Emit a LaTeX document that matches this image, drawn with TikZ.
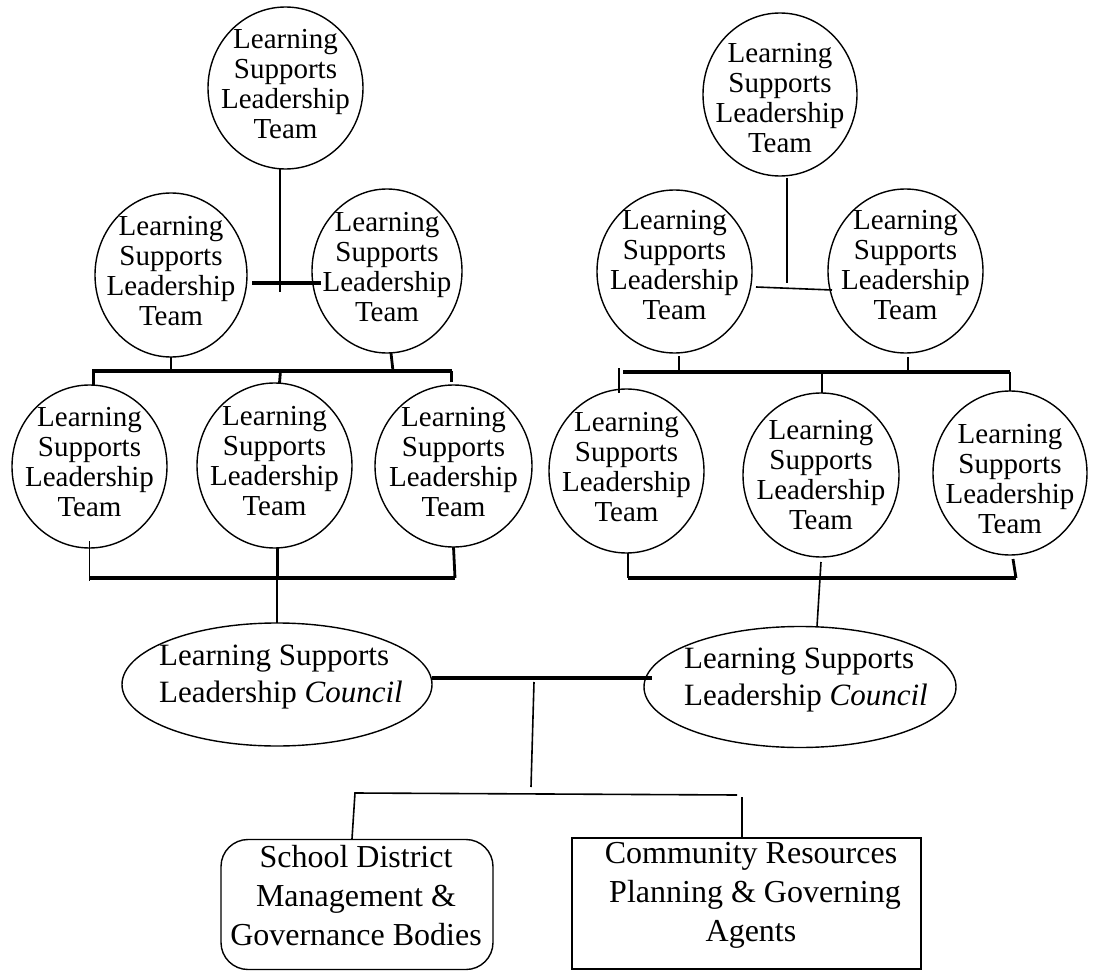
\documentclass[tikz,border=0pt]{standalone}
\usepackage{fontspec}
\setmainfont{Liberation Serif}
\usetikzlibrary{shapes.geometric}
\tikzset{
  team/.style={draw, ellipse, line width=1.4pt, inner sep=0pt, outer sep=0pt, minimum width=155pt, minimum height=163pt},
  teamtext/.style={align=center, font=\fontsize{29}{30}\selectfont, inner sep=0pt, yshift=4pt},
  council/.style={draw, ellipse, line width=1.4pt, inner sep=0pt, outer sep=0pt, minimum width=310pt, minimum height=122pt},
  counciltext/.style={align=left, font=\fontsize{31}{37}\selectfont, inner sep=0pt, yshift=7pt},
  boxtext/.style={align=center, font=\fontsize{32}{39}\selectfont, inner sep=0pt},
  thinline/.style={line width=1.6pt},
  midline/.style={line width=2.8pt},
  thickline/.style={line width=4pt},
}
\newcommand{\lslt}{Learning\\Supports\\Leadership\\Team}
\begin{document}
\begin{tikzpicture}[x=1pt,y=-1pt]
\fill[white] (0,0) rectangle (1096,971);
\useasboundingbox (0,0) rectangle (1096,971);

% ---------- left group ----------
\node[team, minimum width=155pt, minimum height=162pt] (L0) at (285.5,88) {};
\node[teamtext] (L0t) at (L0.center) {\lslt};
\node[team, minimum width=152pt, minimum height=164pt] (L1) at (171,275) {};
\node[teamtext] (L1t) at (L1.center) {\lslt};
\node[team, minimum width=150pt, minimum height=164pt] (L2) at (387,271) {};
\node[teamtext] (L2t) at (L2.center) {\lslt};
\node[team, minimum width=155pt, minimum height=163pt] (B1) at (89.5,466.5) {};
\node[teamtext] (B1t) at (B1.center) {\lslt};
\node[team, minimum width=155pt, minimum height=165pt] (B2) at (274.5,465.5) {};
\node[teamtext] (B2t) at (B2.center) {\lslt};
\node[team, minimum width=157pt, minimum height=162pt] (B3) at (453.5,466) {};
\node[teamtext] (B3t) at (B3.center) {\lslt};

\coordinate (ljoin) at (280,292);
\coordinate (lbarW) at (252,283);
\coordinate (lbarE) at (321,283);
\coordinate (lbusW) at (92,371);
\coordinate (lbusE) at (452,371);
\coordinate (lbbW) at (90,578);
\coordinate (lbbE) at (455,578);

\draw[thinline] (ljoin |- L0.south) -- (ljoin);
\draw[thickline] (lbarW) -- (lbarE);
\draw[thickline] (lbusW) -- (lbusE);
\draw[midline] (L1.south) -- (L1.south |- lbusW);
\draw[midline] ([xshift=4pt]L2.south) -- ([xshift=6pt]L2.south |- lbusW);
\draw[midline] ([xshift=4pt]B1.north |- lbusW) -- ([xshift=4pt]B1.north);
\draw[midline] ([xshift=6pt]B2.north |- lbusW) -- ([xshift=5pt]B2.north);
\draw[midline] ([xshift=-2pt]B3.north |- lbusW) -- ([xshift=-2pt,yshift=3pt]B3.north);
\draw[thickline] (lbbW) -- (lbbE);
\draw[thinline] ([yshift=7pt]B1.south) -- ([yshift=-3pt]B1.south |- lbbW);
\draw[midline] ([xshift=3pt]B2.south) -- ([xshift=3pt]B2.south |- lbbW);
\draw[midline] (B3.south) -- ([xshift=1.5pt]B3.south |- lbbW);

% ---------- right group ----------
\node[team, minimum width=154pt, minimum height=163pt] (R0) at (780,94.5) {};
\node[teamtext, yshift=-8pt] (R0t) at (R0.center) {\lslt};
\node[team, minimum width=155pt, minimum height=163pt] (R1) at (674.5,271.5) {};
\node[teamtext, yshift=2pt] (R1t) at (R1.center) {\lslt};
\node[team, minimum width=155pt, minimum height=164pt] (R2) at (905.5,271) {};
\node[teamtext, yshift=2pt] (R2t) at (R2.center) {\lslt};
\node[team, minimum width=155pt, minimum height=164pt] (S1) at (626.5,471) {};
\node[teamtext] (S1t) at (S1.center) {\lslt};
\node[team, minimum width=156pt, minimum height=164pt] (S2) at (821,475) {};
\node[teamtext, yshift=-4pt] (S2t) at (S2.center) {\lslt};
\node[team, minimum width=154pt, minimum height=164pt] (S3) at (1010,473) {};
\node[teamtext, yshift=-10pt] (S3t) at (S3.center) {\lslt};

\coordinate (rjoin) at (787,283);
\coordinate (rbarW) at (756,287);
\coordinate (rbarE) at (832,290);
\coordinate (rbusW) at (623,372);
\coordinate (rbusE) at (1010,372);
\coordinate (rtick) at (619,368);
\coordinate (rbbW) at (628,578);
\coordinate (rbbE) at (1016,578);

\draw[midline] ([yshift=-2pt]rjoin |- R0.south) -- (rjoin);
\draw[thinline] (rbarW) -- (rbarE);
\draw[thickline] (rbusW) -- (rbusE);
\draw[midline] ([xshift=4.5pt,yshift=-3pt]R1.south) -- ([xshift=4.5pt]R1.south |- rbusW);
\draw[midline] ([xshift=2.5pt,yshift=-4pt]R2.south) -- ([xshift=2.5pt]R2.south |- rbusW);
\draw[thinline] (rtick) -- (rtick |- S1.north) -- ++(0,4);
\draw[midline] ([xshift=1pt]S2.north |- rbusW) -- ([xshift=1pt]S2.north);
\draw[midline] (rbusE) -- (S3.north);
\draw[thickline] (rbbW) -- (rbbE);
\draw[midline] ([xshift=1.5pt]S1.south) -- (rbbW);
\draw[midline] ([xshift=3pt,yshift=-4pt]S3.south) -- (rbbE);

% ---------- councils ----------
\node[council, minimum width=310pt, minimum height=123pt] (CL) at (277,684.5) {};
\node[counciltext] (CLt) at ([xshift=4pt]CL.center) {Learning Supports\\Leadership \textit{Council}};
\node[council, minimum width=312pt, minimum height=121pt] (CR) at (800,687) {};
\node[counciltext] (CRt) at ([xshift=6pt]CR.center) {Learning Supports\\Leadership \textit{Council}};

\draw[midline] (B2.south -| CL.north) ++(0,13) coordinate (cldrop) -- (CL.north);
\draw[thinline] ([yshift=-5pt]S2.south) -- ([xshift=17pt]CR.north);

\coordinate (cbarE) at (652,678);
\coordinate (ctop) at (534,682);
\coordinate (cj) at (531,787);
\draw[thickline] (CL.east |- cbarE) -- (cbarE);
\draw[thinline] (ctop) -- (cj);

% ---------- bottom boxes ----------
\node[draw, line width=1.4pt, rounded corners=27pt, minimum width=272pt, minimum height=130pt, inner sep=0pt] (SD) at (357,904.5) {};
\node[boxtext] (SDt) at (356,895.5) {School District\\Management \&\\Governance Bodies};
\node[draw, line width=1.4pt, minimum width=349pt, minimum height=131pt, inner sep=0pt] (CM) at (746.5,903.5) {};
\node[boxtext] (CMt) at (751,895.5) {Community Resources\\\ Planning \& Governing\\Agents};

\coordinate (bW) at (355,793);
\coordinate (bE) at (737,795);
\coordinate (bdrop) at (742,797);
\draw[thinline] ([xshift=-5pt]SD.north) -- (bW) -- (bE);
\draw[midline] (bdrop) -- (bdrop |- CM.north);
\end{tikzpicture}
\end{document}
